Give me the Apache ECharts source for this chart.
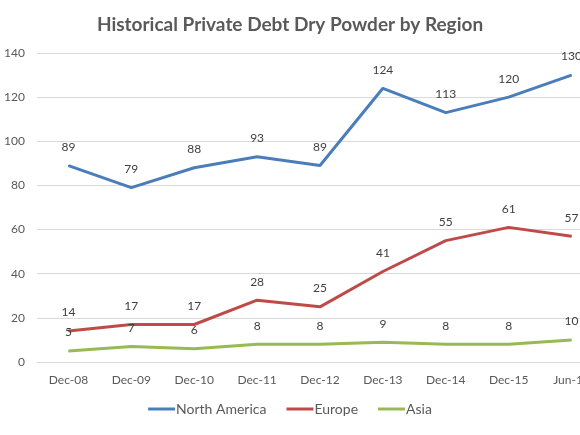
<!DOCTYPE html>
<html>
<head>
<meta charset="utf-8">
<script src="https://cdn.jsdelivr.net/npm/echarts@6/dist/echarts.min.js"></script>
<style>
  html, body { margin: 0; padding: 0; background: #fff; }
  #chart { width: 580px; height: 435px; }
</style>
</head>
<body>
<div id="chart"></div>
<script>
const categories = ['Dec-08', 'Dec-09', 'Dec-10', 'Dec-11', 'Dec-12', 'Dec-13', 'Dec-14', 'Dec-15', 'Jun-16'];
const northAmerica = [89, 79, 88, 93, 89, 124, 113, 120, 130];
const europe = [14, 17, 17, 28, 25, 41, 55, 61, 57];
const asia = [5, 7, 6, 8, 8, 9, 8, 8, 10];

const chart = echarts.init(document.getElementById('chart'));

// same look for every line, only colour changes
function lineSeries(name, data, color) {
    return {
        name: name,
        type: 'line',
        data: data,
        symbol: 'circle',
        symbolSize: 1,
        itemStyle: { color: color },
        lineStyle: { color: color, width: 3 },
        label: {
            show: true,
            position: 'top',
            distance: 12,
            color: '#404040',
            fontSize: 12,
            fontFamily: 'Lato'
        }
    };
}

chart.setOption({
    animation: false,
    title: {
        text: 'Historical Private Debt Dry Powder by Region',
        left: 'center',
        top: 10,
        textStyle: {
            color: '#595959',
            fontSize: 19,
            fontWeight: 'bold',
            fontFamily: 'Lato'
        }
    },
    grid: {
        left: 37,
        top: 53,
        bottom: 73,
        width: 566,
        outerBoundsMode: 'none'
    },
    legend: {
        bottom: 14,
        left: 'center',
        itemWidth: 27,
        itemHeight: 3,
        itemGap: 20,
        icon: 'rect',
        textStyle: { color: '#595959', fontSize: 14, fontFamily: 'Lato', padding: [0, 0, 0, -4] },
        data: ['North America', 'Europe', 'Asia']
    },
    xAxis: {
        type: 'category',
        data: categories,
        axisLine: { lineStyle: { color: '#d9d9d9' } },
        axisTick: { show: false },
        axisLabel: { color: '#595959', fontSize: 12, fontFamily: 'Lato', margin: 12 }
    },
    yAxis: {
        type: 'value',
        min: 0,
        max: 140,
        interval: 20,
        axisLine: { show: false },
        axisTick: { show: false },
        splitLine: { lineStyle: { color: '#d9d9d9' } },
        axisLabel: { color: '#595959', fontSize: 12, fontFamily: 'Lato', margin: 12 }
    },
    series: [
        lineSeries('North America', northAmerica, '#4a7ebb'),
        lineSeries('Europe', europe, '#be4b48'),
        lineSeries('Asia', asia, '#98b954')
    ]
});
</script>
</body>
</html>
